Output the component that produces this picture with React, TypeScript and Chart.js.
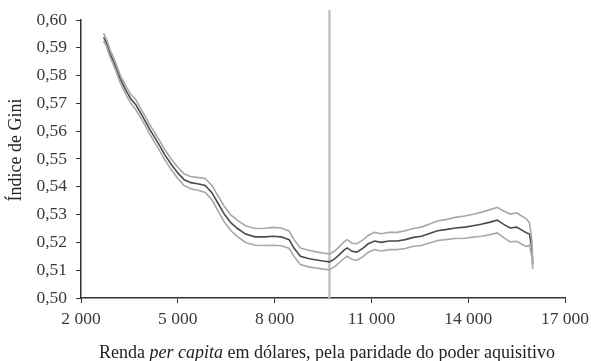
import { useEffect, useRef } from "react";
import { Chart, registerables } from "chart.js";

Chart.register(...registerables);

const incomeX = [
  2700, 2800, 2900, 3050, 3210, 3400, 3550, 3700, 3900, 4140, 4400, 4600, 4800, 5000, 5200, 5400, 5650, 5850,
  6050, 6250, 6450, 6650, 6850, 7100, 7400, 7700, 7950, 8200, 8450, 8600, 8800, 9050, 9300, 9500, 9700, 9850,
  10000, 10150, 10250, 10400, 10550, 10750, 10900, 11100, 11300, 11550, 11800, 12050, 12300, 12550, 12800,
  13050, 13300, 13600, 13900, 14150, 14400, 14650, 14900, 15100, 15300, 15500, 15650, 15800, 15900, 15970, 16000,
];

const giniCenter = [
  0.5938, 0.5915, 0.588, 0.584, 0.579, 0.5745, 0.5715, 0.5695, 0.5655, 0.5605, 0.5555, 0.5515, 0.548, 0.545,
  0.5425, 0.5415, 0.541, 0.5405, 0.538, 0.534, 0.53, 0.527, 0.525, 0.523, 0.522, 0.522, 0.5222, 0.522, 0.521,
  0.518, 0.515, 0.5142, 0.5137, 0.5133, 0.513, 0.514, 0.5155, 0.5172, 0.518, 0.5168, 0.5165, 0.518, 0.5195,
  0.5205, 0.52, 0.5205, 0.5205, 0.521, 0.5218, 0.5222, 0.5232, 0.5242, 0.5246, 0.5252, 0.5255, 0.526, 0.5265,
  0.5272, 0.528, 0.5265, 0.5252, 0.5255, 0.5245, 0.5235, 0.523, 0.518, 0.512,
];

const giniUpper = [
  0.5952, 0.5928, 0.5893, 0.5853, 0.5804, 0.576, 0.5731, 0.5713, 0.5671, 0.5622, 0.5573, 0.5533, 0.5499, 0.547,
  0.5446, 0.5437, 0.5433, 0.543, 0.5406, 0.5367, 0.5328, 0.5298, 0.5279, 0.526, 0.525, 0.5251, 0.5254, 0.5252,
  0.5241, 0.521, 0.518, 0.5172, 0.5166, 0.5162, 0.5158, 0.5168, 0.5184, 0.5202, 0.521, 0.5197, 0.5195, 0.521,
  0.5225, 0.5236, 0.5231, 0.5236, 0.5236, 0.5242, 0.525, 0.5255, 0.5266, 0.5277, 0.5282, 0.529, 0.5295, 0.5301,
  0.5308, 0.5317, 0.5326, 0.5313, 0.5302, 0.5306, 0.5296, 0.5285, 0.527, 0.521, 0.5135,
];

const giniLower = [
  0.5925, 0.5902, 0.5867, 0.5827, 0.5776, 0.573, 0.5699, 0.5677, 0.5639, 0.5588, 0.5537, 0.5497, 0.5461, 0.543,
  0.5404, 0.5393, 0.5387, 0.538, 0.5354, 0.5313, 0.5272, 0.5242, 0.5221, 0.52, 0.519, 0.5189, 0.519, 0.5188,
  0.5179, 0.515, 0.512, 0.5112, 0.5108, 0.5104, 0.5102, 0.5112, 0.5126, 0.5142, 0.515, 0.5139, 0.5135, 0.515,
  0.5165, 0.5174, 0.5169, 0.5174, 0.5174, 0.5178, 0.5186, 0.5189, 0.5198, 0.5207, 0.521, 0.5214, 0.5215, 0.5219,
  0.5222, 0.5227, 0.5234, 0.5217, 0.5202, 0.5204, 0.5194, 0.5185, 0.519, 0.515, 0.5105,
];

const xTickValues = [2000, 5000, 8000, 11000, 14000, 17000];
const yTickValues = [0.5, 0.51, 0.52, 0.53, 0.54, 0.55, 0.56, 0.57, 0.58, 0.59, 0.6];

const thresholdX = [9700, 9700];
const thresholdY = [0.5, 0.6036];

const yTitle = "Índice de Gini";
const xTitleParts = [
  { text: "Renda ", italic: false },
  { text: "per capita", italic: true },
  { text: " em dólares, pela paridade do poder aquisitivo", italic: false },
];

const FONT = "'Liberation Serif', 'DejaVu Serif', serif";

export default function App() {
  const ref = useRef<HTMLCanvasElement | null>(null);

  useEffect(() => {
    document.body.style.margin = "0";
    const canvas = ref.current;
    if (!canvas) return;

    const titlesPlugin = {
      id: "titles",
      afterDraw(chart: any) {
        const ctx = chart.ctx as CanvasRenderingContext2D;
        ctx.save();
        ctx.fillStyle = "#222";
        ctx.font = `18px ${FONT}`;
        ctx.textAlign = "center";
        ctx.textBaseline = "middle";
        ctx.translate(16, 150);
        ctx.rotate(-Math.PI / 2);
        ctx.fillText(yTitle, 0, 0);
        ctx.restore();

        ctx.save();
        ctx.fillStyle = "#222";
        ctx.textBaseline = "alphabetic";
        ctx.textAlign = "left";
        let total = 0;
        const widths = xTitleParts.map((p) => {
          ctx.font = `${p.italic ? "italic " : ""}18px ${FONT}`;
          const w = ctx.measureText(p.text).width;
          total += w;
          return w;
        });
        const area = chart.chartArea;
        let x = (area.left + area.right) / 2 + 4 - total / 2;
        xTitleParts.forEach((p, i) => {
          ctx.font = `${p.italic ? "italic " : ""}18px ${FONT}`;
          ctx.fillText(p.text, x, 358);
          x += widths[i];
        });
        ctx.restore();
      },
    };

    const chart = new Chart(canvas, {
      type: "line",
      data: {
        datasets: [
          {
            data: incomeX.map((x, i) => ({ x, y: giniUpper[i] })),
            borderColor: "#a8a8a8",
            borderWidth: 1.6,
            pointRadius: 0,
            tension: 0,
          },
          {
            data: incomeX.map((x, i) => ({ x, y: giniLower[i] })),
            borderColor: "#a8a8a8",
            borderWidth: 1.6,
            pointRadius: 0,
            tension: 0,
          },
          {
            data: incomeX.map((x, i) => ({ x, y: giniCenter[i] })),
            borderColor: "#4a4a4a",
            borderWidth: 1.6,
            pointRadius: 0,
            tension: 0,
          },
          {
            data: thresholdX.map((x, i) => ({ x, y: thresholdY[i] })),
            borderColor: "#c4c4c4",
            borderWidth: 2.5,
            pointRadius: 0,
            clip: false as any,
          },
        ],
      },
      options: {
        responsive: false,
        animation: false,
        layout: { padding: { top: 20, right: 26, left: 0, bottom: 0 } },
        plugins: { legend: { display: false }, tooltip: { enabled: false } },
        scales: {
          x: {
            type: "linear",
            min: 2000,
            max: 17000,
            afterBuildTicks: (scale: any) => {
              scale.ticks = xTickValues.map((v) => ({ value: v }));
            },
            afterFit: (scale: any) => {
              scale.height = 63;
              scale.paddingLeft = 0;
              scale.paddingRight = 0;
            },
            border: { display: true, color: "#333", width: 1.5 },
            grid: { display: true, drawOnChartArea: false, drawTicks: true, tickLength: 5, color: "#333" },
            ticks: {
              color: "#3a3a3a",
              font: { family: FONT, size: 17.5 },
              padding: 6,
              maxRotation: 0,
              callback: (v: any) => `${Math.round(Number(v) / 1000)} 000`,
            },
          },
          y: {
            type: "linear",
            min: 0.5,
            max: 0.6,
            afterBuildTicks: (scale: any) => {
              scale.ticks = yTickValues.map((v) => ({ value: v }));
            },
            afterFit: (scale: any) => {
              scale.width = 81;
            },
            border: { display: true, color: "#333", width: 1.5 },
            grid: { display: true, drawOnChartArea: false, drawTicks: true, tickLength: 5, color: "#333" },
            ticks: {
              color: "#3a3a3a",
              font: { family: FONT, size: 17.5 },
              padding: 9,
              callback: (v: any) => Number(v).toFixed(2).replace(".", ","),
            },
          },
        },
      },
      plugins: [titlesPlugin],
    });

    return () => chart.destroy();
  }, []);

  return (
    <div style={{ width: 591, height: 361 }}>
      <canvas ref={ref} width={591} height={361} />
    </div>
  );
}
